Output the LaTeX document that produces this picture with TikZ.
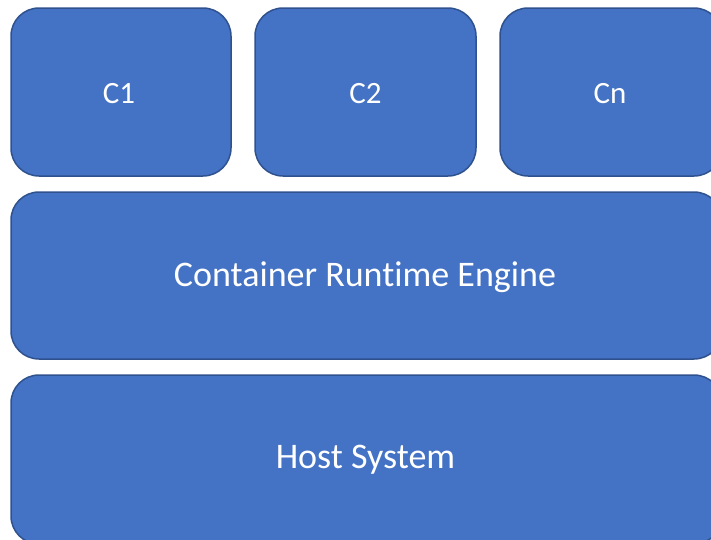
\documentclass[tikz,border=0pt]{standalone}
\usepackage{fontspec}
\setmainfont{Carlito}[Ligatures=CommonOff]
\definecolor{boxfill}{HTML}{4472C4}
\definecolor{boxline}{HTML}{2F528F}
\begin{document}
\begin{tikzpicture}[x=1pt,y=-1pt,
  layer/.style={draw=boxline, line width=1.5pt, fill=boxfill, rounded corners=28pt},
  label/.style={text=white, anchor=base, inner sep=0pt},
  small/.style={label, font=\fontsize{31}{37}\selectfont},
  big/.style={label, font=\fontsize{36}{43}\selectfont}]
\useasboundingbox (0,0) rectangle (711,539);
% container boxes
\draw[layer] (11,8) rectangle (231,176);
\node[small] (c1) at (119,103) {C1};
\draw[layer] (255,8) rectangle (476,176);
\node[small] (c2) at (365.5,103) {C2};
\draw[layer] (500,8) rectangle (722,176);
\node[small] (cn) at (610,103) {Cn};
% runtime engine
\draw[layer] (11,192) rectangle (722,359);
\node[big] (rt) at (365,286) {Container Runtime Engine};
% host system
\draw[layer] (11,375) rectangle (722,544);
\node[big] (hs) at (365.5,468) {Host System};
\end{tikzpicture}
\end{document}
